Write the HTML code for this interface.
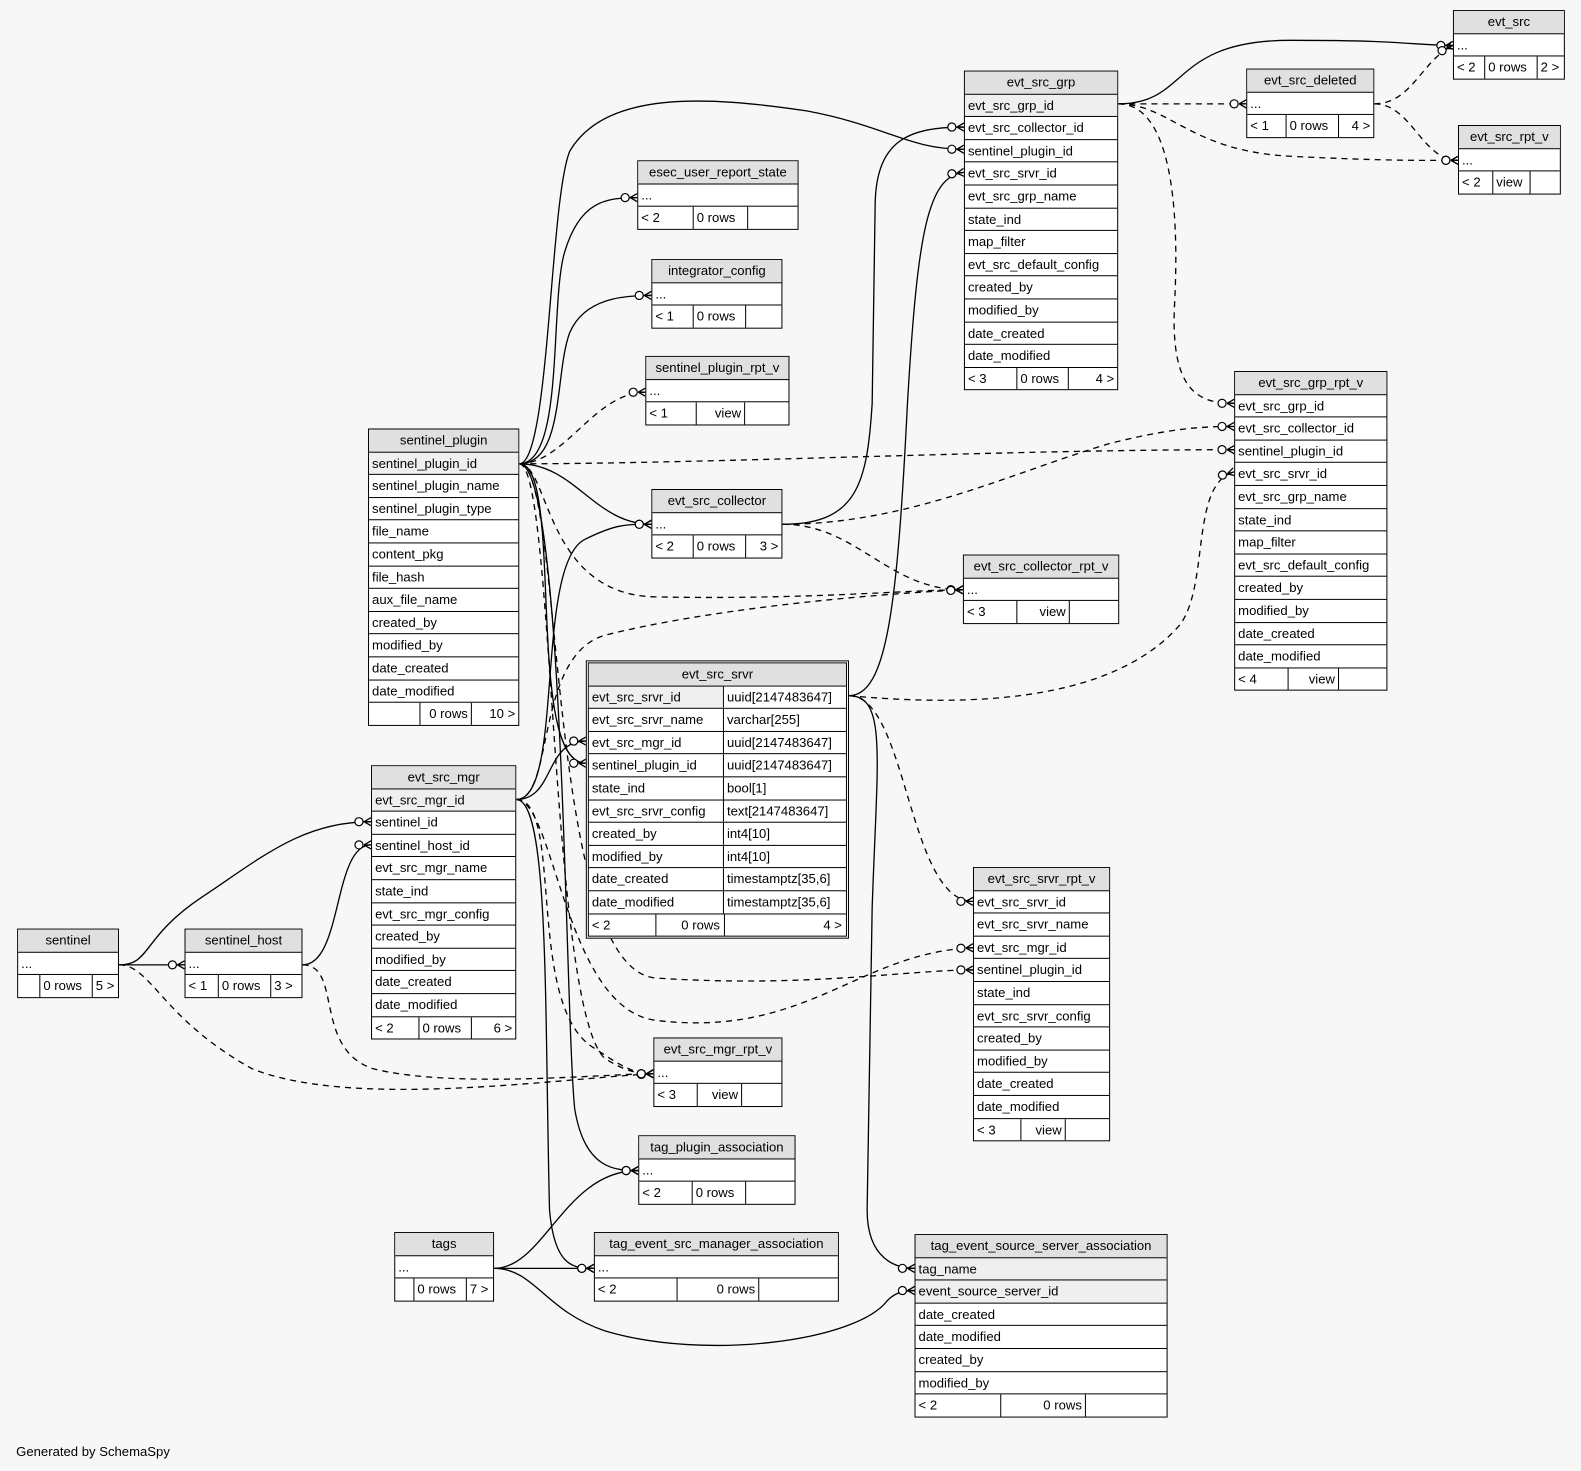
<!DOCTYPE html>
<html><head><meta charset="utf-8"><style>
html,body{margin:0;padding:0;background:#f7f7f7;}
#c{position:relative;width:1568px;height:1459px;transform:scale(1.00829,1.00823);transform-origin:0 0;font-family:"Liberation Sans",Arial,sans-serif;font-size:13px;color:#000;}
.t{position:absolute;border:1px solid #000;background:#fff;box-sizing:border-box;}
.t>div{height:21.6px;line-height:21.6px;border-top:1px solid #000;padding-left:3px;white-space:nowrap;overflow:hidden;}
.t>div.h{border-top:none;background:#e0e0e0;text-align:center;padding-left:0;}
.t>div.k{background:#efefef;}
.t>div.f{display:flex;padding-left:0;}
.f span{border-left:1px solid #000;padding:0 3px;box-sizing:border-box;}
.f span:first-child{border-left:none;}
.f span.r{text-align:right;}
.t2>div{display:flex;padding-left:0;}
.t2>div span{padding-left:3px;box-sizing:border-box;}
.t2>div span:first-child{width:134px;border-right:1px solid #000;}
svg{position:absolute;left:0;top:0;}
#gen{position:absolute;left:16px;top:1432px;}
</style></head><body><div id="c">
<svg width="1568" height="1459" viewBox="0 0 1568 1459">
<defs>
<marker id="m" markerUnits="userSpaceOnUse" viewBox="-20 -8 22 16" refX="0" refY="0" markerWidth="22" markerHeight="16" orient="auto">
<path d="M-7,0 L0,-4 M-7,0 L0,0 M-7,0 L0,4" stroke="#000" stroke-width="1.3" fill="none"/>
<circle cx="-12" cy="0" r="4" fill="#fff" stroke="#000" stroke-width="1.2"/>
</marker>
</defs>
<g fill="none" stroke="#000" stroke-width="1.3" marker-end="url(#m)">
<path d="M1109,103 C1180,103 1160,40 1280,40 S1400,45 1441,45"/>
<path d="M515,460 C545,460 545,200 565,150 C600,90 700,95 800,110 C880,125 900,148 956,148"/>
<path d="M776,520 C850,520 860,480 865,400 L868,200 C870,140 900,126 956,126"/>
<path d="M842,690 C880,690 890,600 900,400 C910,230 920,175 956,171"/>
<path d="M515,460 C560,460 545,300 560,250 C575,200 600,196 632,196"/>
<path d="M515,460 C560,460 550,370 565,330 C580,295 620,293 646,293"/>
<path d="M515,460 C570,460 590,520 646,520"/>
<path d="M515,460 C560,460 520,757 581,757"/>
<path d="M512,793 C550,793 540,735 581,735"/>
<path d="M512,793 C560,793 530,560 580,535 C610,520 620,520 646,520"/>
<path d="M118,957 C150,957 140,930 200,890 C260,850 300,815 368,815"/>
<path d="M118,957 L183,957"/>
<path d="M300,957 C340,957 330,838 368,838"/>
<path d="M515,460 C560,460 560,1000 570,1100 C580,1160 610,1161 633,1161"/>
<path d="M512,793 C545,793 540,1000 545,1200 C550,1258 570,1258 589,1258"/>
<path d="M490,1258 C540,1258 560,1161 633,1161"/>
<path d="M490,1258 L589,1258"/>
<path d="M490,1258 C530,1258 540,1300 600,1320 C700,1350 850,1330 880,1290 C890,1280 900,1280 907,1280"/>
<path d="M842,690 C880,690 870,750 865,900 L860,1200 C860,1250 890,1258 907,1258"/>
</g>
<g fill="none" stroke="#000" stroke-width="1.3" stroke-dasharray="6,5" marker-end="url(#m)">
<path d="M1109,103 L1236,103"/>
<path d="M1363,103 C1400,103 1410,60 1441,45"/>
<path d="M1363,103 C1400,103 1410,159 1446,159"/>
<path d="M1109,103 C1160,103 1180,150 1280,155 C1380,160 1420,159 1446,159"/>
<path d="M1109,103 C1160,103 1170,200 1165,300 C1160,390 1190,400 1224,400"/>
<path d="M515,460 C700,460 1000,446 1224,446"/>
<path d="M776,520 C900,520 1000,470 1100,440 C1160,425 1190,423 1224,423"/>
<path d="M842,690 C950,700 1100,700 1170,620 C1200,580 1180,480 1224,468"/>
<path d="M776,520 C850,520 880,585 955,585"/>
<path d="M515,460 C545,460 540,590 650,592 C800,595 900,585 955,585"/>
<path d="M512,793 C550,793 530,650 600,630 C700,605 850,590 955,585"/>
<path d="M842,690 C900,690 900,894 965,894"/>
<path d="M512,793 C550,793 560,1000 650,1012 C800,1030 850,945 965,940"/>
<path d="M515,460 C560,460 540,960 650,970 C800,980 900,962 965,962"/>
<path d="M118,957 C150,957 160,1010 250,1060 C350,1100 550,1070 648,1065"/>
<path d="M300,957 C340,957 310,1040 370,1060 C450,1080 600,1065 648,1065"/>
<path d="M512,793 C560,793 520,1000 590,1040 C620,1060 630,1065 648,1065"/>
<path d="M515,460 C550,460 545,1000 600,1050 C620,1062 630,1065 648,1065"/>
<path d="M515,460 C560,460 590,389 640,389"/>
</g>
</svg>

<div class="t" style="left:1441px;top:10px;width:111px"><div class="h">evt_src</div><div>...</div><div class="f"><span style="width:30px">&lt; 2</span><span style="width:52px">0 rows</span><span>2 &gt;</span></div></div>

<div class="t" style="left:1446px;top:124px;width:102px"><div class="h">evt_src_rpt_v</div><div>...</div><div class="f"><span style="width:33px">&lt; 2</span><span style="width:37px">view</span><span></span></div></div>

<div class="t" style="left:1236px;top:68px;width:127px"><div class="h">evt_src_deleted</div><div>...</div><div class="f"><span style="width:38px">&lt; 1</span><span style="width:52px">0 rows</span><span class="r" style="flex:1">4 &gt;</span></div></div>

<div class="t" style="left:956px;top:70px;width:153px"><div class="h">evt_src_grp</div><div class="k">evt_src_grp_id</div><div>evt_src_collector_id</div><div>sentinel_plugin_id</div><div>evt_src_srvr_id</div><div>evt_src_grp_name</div><div>state_ind</div><div>map_filter</div><div>evt_src_default_config</div><div>created_by</div><div>modified_by</div><div>date_created</div><div>date_modified</div><div class="f"><span style="width:51px">&lt; 3</span><span style="width:51px">0 rows</span><span class="r" style="flex:1">4 &gt;</span></div></div>

<div class="t" style="left:632px;top:159px;width:160px"><div class="h">esec_user_report_state</div><div>...</div><div class="f"><span style="width:54px">&lt; 2</span><span style="width:54px">0 rows</span><span></span></div></div>

<div class="t" style="left:646px;top:257px;width:130px"><div class="h">integrator_config</div><div>...</div><div class="f"><span style="width:40px">&lt; 1</span><span style="width:52px">0 rows</span><span></span></div></div>

<div class="t" style="left:640px;top:353px;width:143px"><div class="h">sentinel_plugin_rpt_v</div><div>...</div><div class="f"><span style="width:49px">&lt; 1</span><span class="r" style="width:48px">view</span><span></span></div></div>

<div class="t" style="left:365px;top:425px;width:150px"><div class="h">sentinel_plugin</div><div class="k">sentinel_plugin_id</div><div>sentinel_plugin_name</div><div>sentinel_plugin_type</div><div>file_name</div><div>content_pkg</div><div>file_hash</div><div>aux_file_name</div><div>created_by</div><div>modified_by</div><div>date_created</div><div>date_modified</div><div class="f"><span style="width:50px"></span><span class="r" style="width:51px">0 rows</span><span class="r" style="flex:1">10 &gt;</span></div></div>

<div class="t" style="left:646px;top:485px;width:130px"><div class="h">evt_src_collector</div><div>...</div><div class="f"><span style="width:40px">&lt; 2</span><span style="width:52px">0 rows</span><span class="r" style="flex:1">3 &gt;</span></div></div>

<div class="t" style="left:955px;top:550px;width:155px"><div class="h">evt_src_collector_rpt_v</div><div>...</div><div class="f"><span style="width:52px">&lt; 3</span><span class="r" style="width:52px">view</span><span></span></div></div>

<div class="t" style="left:1224px;top:368px;width:152px"><div class="h">evt_src_grp_rpt_v</div><div>evt_src_grp_id</div><div>evt_src_collector_id</div><div>sentinel_plugin_id</div><div>evt_src_srvr_id</div><div>evt_src_grp_name</div><div>state_ind</div><div>map_filter</div><div>evt_src_default_config</div><div>created_by</div><div>modified_by</div><div>date_created</div><div>date_modified</div><div class="f"><span style="width:52px">&lt; 4</span><span class="r" style="width:50px">view</span><span></span></div></div>

<div class="t t2" style="left:581px;top:655px;width:261px;border:3px double #000;"><div class="h" style="display:block">evt_src_srvr</div><div class="k"><span>evt_src_srvr_id</span><span style="background:#fff;flex:1">uuid[2147483647]</span></div><div><span>evt_src_srvr_name</span><span>varchar[255]</span></div><div><span>evt_src_mgr_id</span><span>uuid[2147483647]</span></div><div><span>sentinel_plugin_id</span><span>uuid[2147483647]</span></div><div><span>state_ind</span><span>bool[1]</span></div><div><span>evt_src_srvr_config</span><span>text[2147483647]</span></div><div><span>created_by</span><span>int4[10]</span></div><div><span>modified_by</span><span>int4[10]</span></div><div><span>date_created</span><span>timestamptz[35,6]</span></div><div><span>date_modified</span><span>timestamptz[35,6]</span></div><div class="f"><span style="width:67px;border-right:1px solid #000">&lt; 2</span><span class="r" style="width:67px;border-left:none;padding-right:4px">0 rows</span><span class="r" style="flex:1;padding-right:4px">4 &gt;</span></div></div>

<div class="t" style="left:368px;top:759px;width:144px"><div class="h">evt_src_mgr</div><div class="k">evt_src_mgr_id</div><div>sentinel_id</div><div>sentinel_host_id</div><div>evt_src_mgr_name</div><div>state_ind</div><div>evt_src_mgr_config</div><div>created_by</div><div>modified_by</div><div>date_created</div><div>date_modified</div><div class="f"><span style="width:46px">&lt; 2</span><span style="width:52px">0 rows</span><span class="r" style="flex:1">6 &gt;</span></div></div>

<div class="t" style="left:17px;top:921px;width:101px"><div class="h">sentinel</div><div>...</div><div class="f"><span style="width:21px"></span><span style="width:52px">0 rows</span><span>5 &gt;</span></div></div>

<div class="t" style="left:183px;top:921px;width:117px"><div class="h">sentinel_host</div><div>...</div><div class="f"><span style="width:32px">&lt; 1</span><span style="width:52px">0 rows</span><span>3 &gt;</span></div></div>

<div class="t" style="left:965px;top:860px;width:136px"><div class="h">evt_src_srvr_rpt_v</div><div>evt_src_srvr_id</div><div>evt_src_srvr_name</div><div>evt_src_mgr_id</div><div>sentinel_plugin_id</div><div>state_ind</div><div>evt_src_srvr_config</div><div>created_by</div><div>modified_by</div><div>date_created</div><div>date_modified</div><div class="f"><span style="width:46px">&lt; 3</span><span class="r" style="width:44px">view</span><span></span></div></div>

<div class="t" style="left:648px;top:1029px;width:128px"><div class="h">evt_src_mgr_rpt_v</div><div>...</div><div class="f"><span style="width:42px">&lt; 3</span><span class="r" style="width:44px">view</span><span></span></div></div>

<div class="t" style="left:633px;top:1126px;width:156px"><div class="h">tag_plugin_association</div><div>...</div><div class="f"><span style="width:52px">&lt; 2</span><span style="width:53px">0 rows</span><span></span></div></div>

<div class="t" style="left:391px;top:1222px;width:99px"><div class="h">tags</div><div>...</div><div class="f"><span style="width:18px"></span><span style="width:52px">0 rows</span><span>7 &gt;</span></div></div>

<div class="t" style="left:589px;top:1222px;width:243px"><div class="h">tag_event_src_manager_association</div><div>...</div><div class="f"><span style="width:81px">&lt; 2</span><span class="r" style="width:81px">0 rows</span><span></span></div></div>

<div class="t" style="left:907px;top:1224px;width:251px"><div class="h">tag_event_source_server_association</div><div class="k">tag_name</div><div class="k">event_source_server_id</div><div>date_created</div><div>date_modified</div><div>created_by</div><div>modified_by</div><div class="f"><span style="width:84px">&lt; 2</span><span class="r" style="width:84px">0 rows</span><span></span></div></div>

<div id="gen">Generated by SchemaSpy</div>
</div></body></html>
